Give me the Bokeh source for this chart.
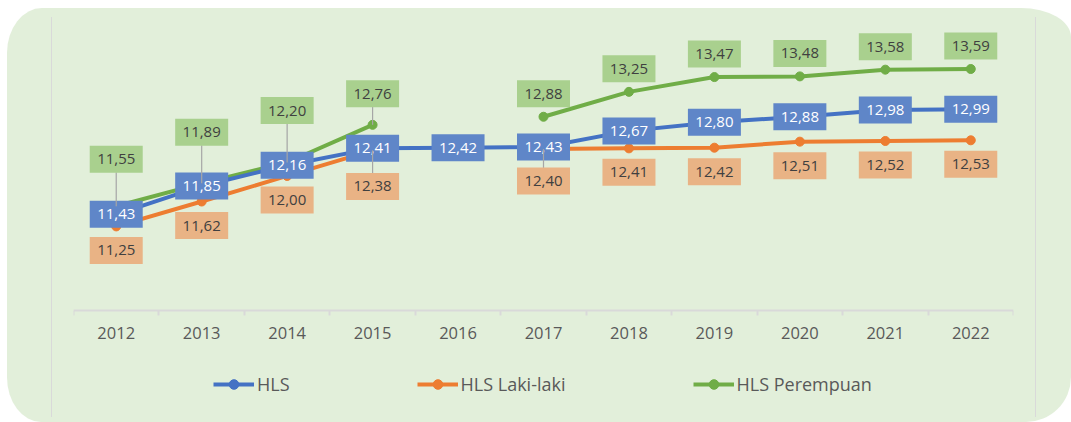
import math
from bokeh.plotting import figure
from bokeh.models import FixedTicker, Legend, LegendItem, ColumnDataSource, Range1d
from bokeh.core.properties import value
from bokeh.embed import file_html
from bokeh.resources import INLINE

# ---------------- data ----------------
years = [2012, 2013, 2014, 2015, 2016, 2017, 2018, 2019, 2020, 2021, 2022]
hls = [11.43, 11.85, 12.16, 12.41, 12.42, 12.43, 12.67, 12.80, 12.88, 12.98, 12.99]
hls_laki = [11.25, 11.62, 12.00, 12.38, float("nan"), 12.40, 12.41, 12.42, 12.51, 12.52, 12.53]
hls_perempuan = [11.55, 11.89, 12.20, 12.76, float("nan"), 12.88, 13.25, 13.47, 13.48, 13.58, 13.59]
series_names = ["HLS", "HLS Laki-laki", "HLS Perempuan"]

# ---------------- label placement (pixels, + = up) ----------------
off_hls = [0] * 11
off_laki = [-24, -24, -24, -36, 0, -32, -24, -24, -24, -24, -24]
off_per = [47, 51, 52, 31, 0, 23, 23, 23, 23, 23, 23]

BLUE, ORANGE, GREEN = "#4472C4", "#ED7D31", "#70AD47"
BOX_BLUE, BOX_ORANGE, BOX_GREEN = "#5F86C8", "#E9B385", "#A9D08E"
FONT = "Open Sans"

W, H = 1064, 414
TOP, LEFT, RIGHT = 6, 66, 58
AXIS_VALUE = 10.0          # value at which the category axis sits
PPU = 296 / 4.4            # pixels per unit on the value scale
AXIS_PX_FROM_BOTTOM = 112  # axis line distance from the bottom of the frame
Y0 = AXIS_VALUE - AXIS_PX_FROM_BOTTOM / PPU
Y1 = AXIS_VALUE + (H - TOP - AXIS_PX_FROM_BOTTOM) / PPU

xs = list(range(len(years)))

p = figure(
    width=W, height=H,
    min_border_left=LEFT, min_border_right=RIGHT, min_border_top=TOP, min_border_bottom=0,
    x_range=Range1d(-0.5, len(years) - 0.5), y_range=Range1d(Y0, Y1),
    y_axis_location=None, toolbar_location=None, output_backend="svg",
    title=None,
)
p.border_fill_color = None
p.background_fill_color = None
p.outline_line_color = None
p.grid.visible = False
p.styles = {
    "margin-left": "7px",
    "margin-top": "8px",
    "background": "linear-gradient(#D9D9D9,#D9D9D9) 44px 9px / 1px 400px no-repeat, "
                  "linear-gradient(#D9D9D9,#D9D9D9) 1028px 9px / 1px 400px no-repeat, #E2EFDA",
    "border-top-left-radius": "35px 45px",
    "border-top-right-radius": "50px 29px",
    "border-bottom-right-radius": "45px 45px",
    "border-bottom-left-radius": "34px 45px",
}

ax = p.xaxis[0]
ax.fixed_location = AXIS_VALUE
ax.ticker = FixedTicker(ticks=xs, minor_ticks=[i - 0.5 for i in range(len(years) + 1)])
ax.major_label_overrides = {i: str(y) for i, y in zip(xs, years)}
ax.axis_line_color = "#D9D9D9"
ax.axis_line_width = 2
ax.major_tick_line_color = None
ax.major_tick_out = 5
ax.major_tick_in = 0
ax.minor_tick_line_color = "#D9D9D9"
ax.minor_tick_line_width = 2
ax.minor_tick_out = 5
ax.minor_tick_in = 0
ax.major_label_text_font = FONT
ax.major_label_text_font_size = "16.5px"
ax.major_label_text_color = "#595959"
ax.major_label_standoff = 11

def src(vals):
    return ColumnDataSource(dict(x=xs, y=vals))

renderers = {}
for name, vals, col in [("HLS Perempuan", hls_perempuan, GREEN),
                        ("HLS Laki-laki", hls_laki, ORANGE),
                        ("HLS", hls, BLUE)]:
    s = src(vals)
    ln = p.line("x", "y", source=s, line_color=col, line_width=4)
    sc = p.scatter("x", "y", source=s, size=9, fill_color=col, line_color=col)
    renderers[name] = [ln, sc]

# leader lines (label moved away from its point)
lx, ly0, ly1 = [], [], []
for vals, offs, thresh in [(hls_perempuan, off_per, 25), (hls_laki, off_laki, 25)]:
    for i, (v, o) in enumerate(zip(vals, offs)):
        if math.isnan(v) or abs(o) <= thresh:
            continue
        edge = o - 13 if o > 0 else o + 13
        lx.append(xs[i]); ly0.append(v); ly1.append(v + edge / PPU)
lead = p.segment(x0=lx, y0=ly0, x1=lx, y1=ly1, line_color="#A6A6A6", line_width=1.2)
lead.level = "overlay"

def labels(vals, offs, box, txtcol, level):
    bx, by, bt = [], [], []
    for i, (v, o) in enumerate(zip(vals, offs)):
        if math.isnan(v):
            continue
        bx.append(xs[i]); by.append(v + o / PPU)
        bt.append(f"{v:.2f}".replace(".", ","))
    s = ColumnDataSource(dict(x=bx, y=by, t=bt))
    r = p.rect("x", "y", width=53, height=27, width_units="screen", height_units="screen",
               source=s, fill_color=box, line_color=None)
    t = p.text("x", "y", text="t", source=s, text_align="center", text_baseline="middle",
               text_font=value(FONT), text_font_size="15px", text_color=txtcol)
    r.level = level
    t.level = level

labels(hls, off_hls, BOX_BLUE, "#FFFFFF", "annotation")
labels(hls_laki, off_laki, BOX_ORANGE, "#404040", "overlay")
labels(hls_perempuan, off_per, BOX_GREEN, "#404040", "overlay")

legend = Legend(
    items=[LegendItem(label=n, renderers=renderers[n]) for n in series_names],
    orientation="horizontal", location=(140, 26),
    label_text_font=FONT, label_text_font_size="18px", label_text_color="#595959",
    glyph_width=41, glyph_height=24, label_standoff=3, spacing=127,
    padding=0, margin=0, background_fill_alpha=0, border_line_color=None,
)
p.add_layout(legend)

open("out.html", "w").write(file_html(p, INLINE))
